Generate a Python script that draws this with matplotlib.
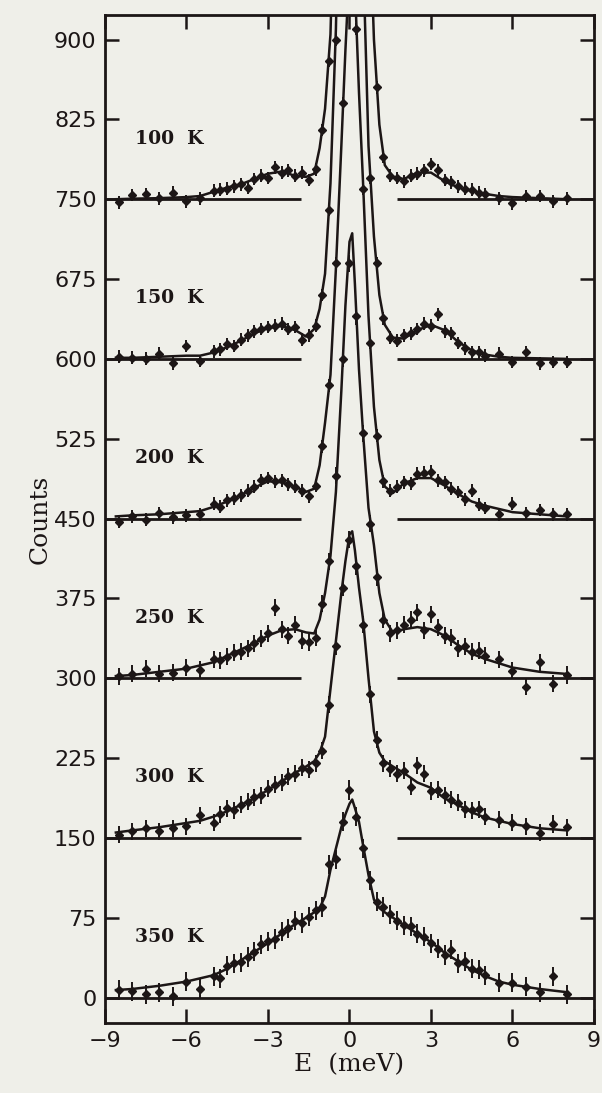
import numpy as np
import matplotlib
matplotlib.use("Agg")
import matplotlib.pyplot as plt

# ---------------- data ----------------
temps = ["100  K", "150  K", "200  K", "250  K", "300  K", "350  K"]
offsets = [750, 600, 450, 300, 150, 0]

# energy grid of the fitted curves (meV)
fit_E = [-8.6, -8.0, -7.0, -6.0, -5.5, -5.0, -4.5, -4.0, -3.5, -3.0, -2.5, -2.0,
         -1.6, -1.3, -1.1, -0.9, -0.7, -0.5, -0.3, -0.15, 0.0, 0.1, 0.2, 0.35,
         0.5, 0.7, 0.9, 1.1, 1.3, 1.6, 2.0, 2.5, 3.0, 3.5, 4.0, 4.5, 5.0, 5.5,
         6.0, 7.0, 8.0]

fit_100K = [0, 0.5, 1, 2, 3, 7, 11, 14, 19, 24, 26, 22, 21, 24, 48, 85, 155, 350,
            600, 1000, 1400, 1500, 1400, 1000, 600, 300, 150, 70, 32, 21, 19, 25,
            25, 17, 11, 8, 5, 3, 2, 1, 0]
fit_150K = [1, 1, 2, 3, 3, 6, 11, 17, 24, 29, 31, 27, 21, 28, 47, 80, 165, 310,
            550, 780, 920, 930, 850, 620, 380, 200, 115, 60, 32, 20, 19, 27, 32,
            27, 16, 8, 4, 2, 1, 0.5, 0]
fit_200K = [2, 3, 4, 6, 7, 11, 16, 22, 29, 35, 34, 30, 25, 28, 50, 90, 135, 235,
            350, 440, 520, 540, 500, 400, 315, 190, 105, 55, 30, 24, 33, 38, 38,
            31, 23, 16, 12, 9, 6, 4, 2]
fit_250K = [2, 3, 6, 9, 12, 15, 21, 27, 33, 40, 45, 46, 43, 42, 55, 80, 115, 175,
            270, 350, 410, 418, 370, 290, 230, 160, 125, 80, 55, 43, 46, 48, 46,
            40, 31, 23, 18, 14, 10, 6, 4]
fit_300K = [5, 7, 10, 14, 16, 20, 25, 31, 37, 45, 53, 61, 67, 72, 80, 95, 140,
            185, 230, 260, 285, 288, 270, 235, 205, 150, 100, 80, 72, 67, 61, 52,
            47, 37, 31, 24, 19, 16, 13, 9, 7]
fit_350K = [7, 8, 11, 15, 18, 21, 27, 35, 43, 51, 60, 69, 75, 80, 84, 95, 120,
            140, 160, 172, 182, 186, 178, 165, 143, 115, 92, 84, 80, 75, 68, 60,
            52, 42, 34, 26, 20, 15, 12, 8, 5]

# measured points (meV, counts above each offset)
data_E = [-8.5, -8.0, -7.5, -7.0, -6.5, -6.0, -5.5,
          -5.0, -4.75, -4.5, -4.25, -4.0, -3.75, -3.5, -3.25, -3.0, -2.75, -2.5,
          -2.25, -2.0, -1.75, -1.5, -1.25, -1.0, -0.75, -0.5, -0.25, 0.0, 0.25,
          0.5, 0.75, 1.0, 1.25, 1.5, 1.75, 2.0, 2.25, 2.5, 2.75, 3.0, 3.25, 3.5,
          3.75, 4.0, 4.25, 4.5, 4.75, 5.0,
          5.5, 6.0, 6.5, 7.0, 7.5, 8.0]

data_100K = [-3, 4, 5, 1, 6, -2, 1,
             8, 9, 10, 12, 14, 11, 19, 22, 20, 30, 25, 27, 22, 25, 18, 28, 65,
             130, 340, 700, 1400, 1250, 600, 260, 105, 40, 22, 20, 17, 22, 24,
             27, 33, 27, 18, 16, 12, 10, 9, 6, 5,
             1, -4, 3, 3, -2, 1]
data_150K = [2, 1, 0, 5, -4, 12, -2,
             7, 9, 14, 12, 18, 22, 26, 28, 30, 31, 33, 28, 30, 18, 22, 31, 60,
             140, 300, 620, 920, 760, 380, 170, 90, 38, 20, 17, 22, 24, 28, 33,
             31, 42, 26, 24, 15, 10, 6, 6, 3,
             5, -3, 6, -4, -3, -3]
data_200K = [-3, 2, -1, 5, 1, 3, 4,
             14, 11, 17, 19, 22, 26, 30, 36, 38, 35, 36, 32, 30, 26, 21, 31, 68,
             125, 240, 390, 520, 460, 310, 165, 78, 35, 26, 30, 34, 33, 42, 43,
             44, 36, 34, 28, 25, 18, 26, 13, 10,
             4, 14, 5, 8, 4, 4]
data_250K = [2, 4, 9, 4, 5, 10, 8,
             18, 17, 20, 24, 25, 28, 33, 37, 42, 66, 46, 40, 50, 35, 34, 38, 70,
             110, 190, 300, 390, 340, 230, 145, 95, 55, 42, 45, 50, 55, 62, 45,
             60, 48, 40, 38, 28, 30, 25, 26, 21,
             18, 7, -8, 15, -5, 3]
data_300K = [3, 6, 9, 6, 9, 11, 21,
             14, 22, 28, 26, 31, 34, 38, 40, 46, 50, 52, 58, 60, 66, 64, 70, 82,
             125, 180, 235, 280, 255, 200, 135, 92, 70, 65, 60, 63, 48, 68, 60,
             44, 45, 40, 36, 33, 27, 26, 27, 20,
             17, 14, 11, 5, 13, 10]
data_350K = [7, 6, 3, 5, 1, 15, 8,
             20, 18, 30, 32, 33, 38, 43, 50, 53, 55, 62, 65, 72, 70, 76, 82, 85,
             125, 130, 165, 195, 170, 140, 110, 90, 85, 78, 72, 68, 67, 60, 57,
             51, 46, 40, 45, 32, 34, 27, 26, 21,
             14, 14, 10, 5, 20, 3]

errors = [6, 6, 6, 8, 8, 9]

fits = [fit_100K, fit_150K, fit_200K, fit_250K, fit_300K, fit_350K]
datas = [data_100K, data_150K, data_200K, data_250K, data_300K, data_350K]

# ---------------- style ----------------
ink = "#1c1616"
bg = "#efefe9"
plt.rcParams["font.family"] = ["DejaVu Sans"]

fig = plt.figure(figsize=(6.02, 10.93), dpi=100, facecolor=bg)
ax = fig.add_axes([0.1744, 0.0640, 0.8123, 0.9222], facecolor=bg)

for lab, off, fy, dy, er in zip(temps, offsets, fits, datas, errors):
    # base lines
    if off == 0:
        ax.plot([-9, 9], [off, off], color=ink, lw=2.0, solid_capstyle="butt")
    else:
        ax.plot([-9, -1.8], [off, off], color=ink, lw=2.0, solid_capstyle="butt")
        ax.plot([1.75, 9], [off, off], color=ink, lw=2.0, solid_capstyle="butt")
    # fitted curve
    ax.plot(fit_E, np.array(fy) + off, color=ink, lw=1.8)
    # data points
    ax.errorbar(data_E, np.array(dy) + off, yerr=er, fmt="D", ms=3.6,
                color=ink, mec=ink, mfc=ink, elinewidth=1.4, capsize=0)
    ax.text(-7.9, off + 57, lab, fontsize=13.5, family="DejaVu Serif",
            fontweight="bold", ha="left", va="center", color=ink)

ax.set_xlim(-9, 9)
ax.set_ylim(-24, 923)
ax.set_xticks([-9, -6, -3, 0, 3, 6, 9])
ax.set_yticks([0, 75, 150, 225, 300, 375, 450, 525, 600, 675, 750, 825, 900])
ax.tick_params(direction="in", length=10, width=1.8, top=True, right=True,
               labelsize=16, colors=ink, pad=6)
for s in ax.spines.values():
    s.set_linewidth(2.0)
    s.set_color(ink)

ax.set_ylabel("Counts", fontsize=18, family="DejaVu Serif", color=ink, labelpad=2)
ax.set_xlabel("E  (meV)", fontsize=18, family="DejaVu Serif", color=ink, labelpad=1)

fig.savefig("out.png", dpi=100, facecolor=bg)
